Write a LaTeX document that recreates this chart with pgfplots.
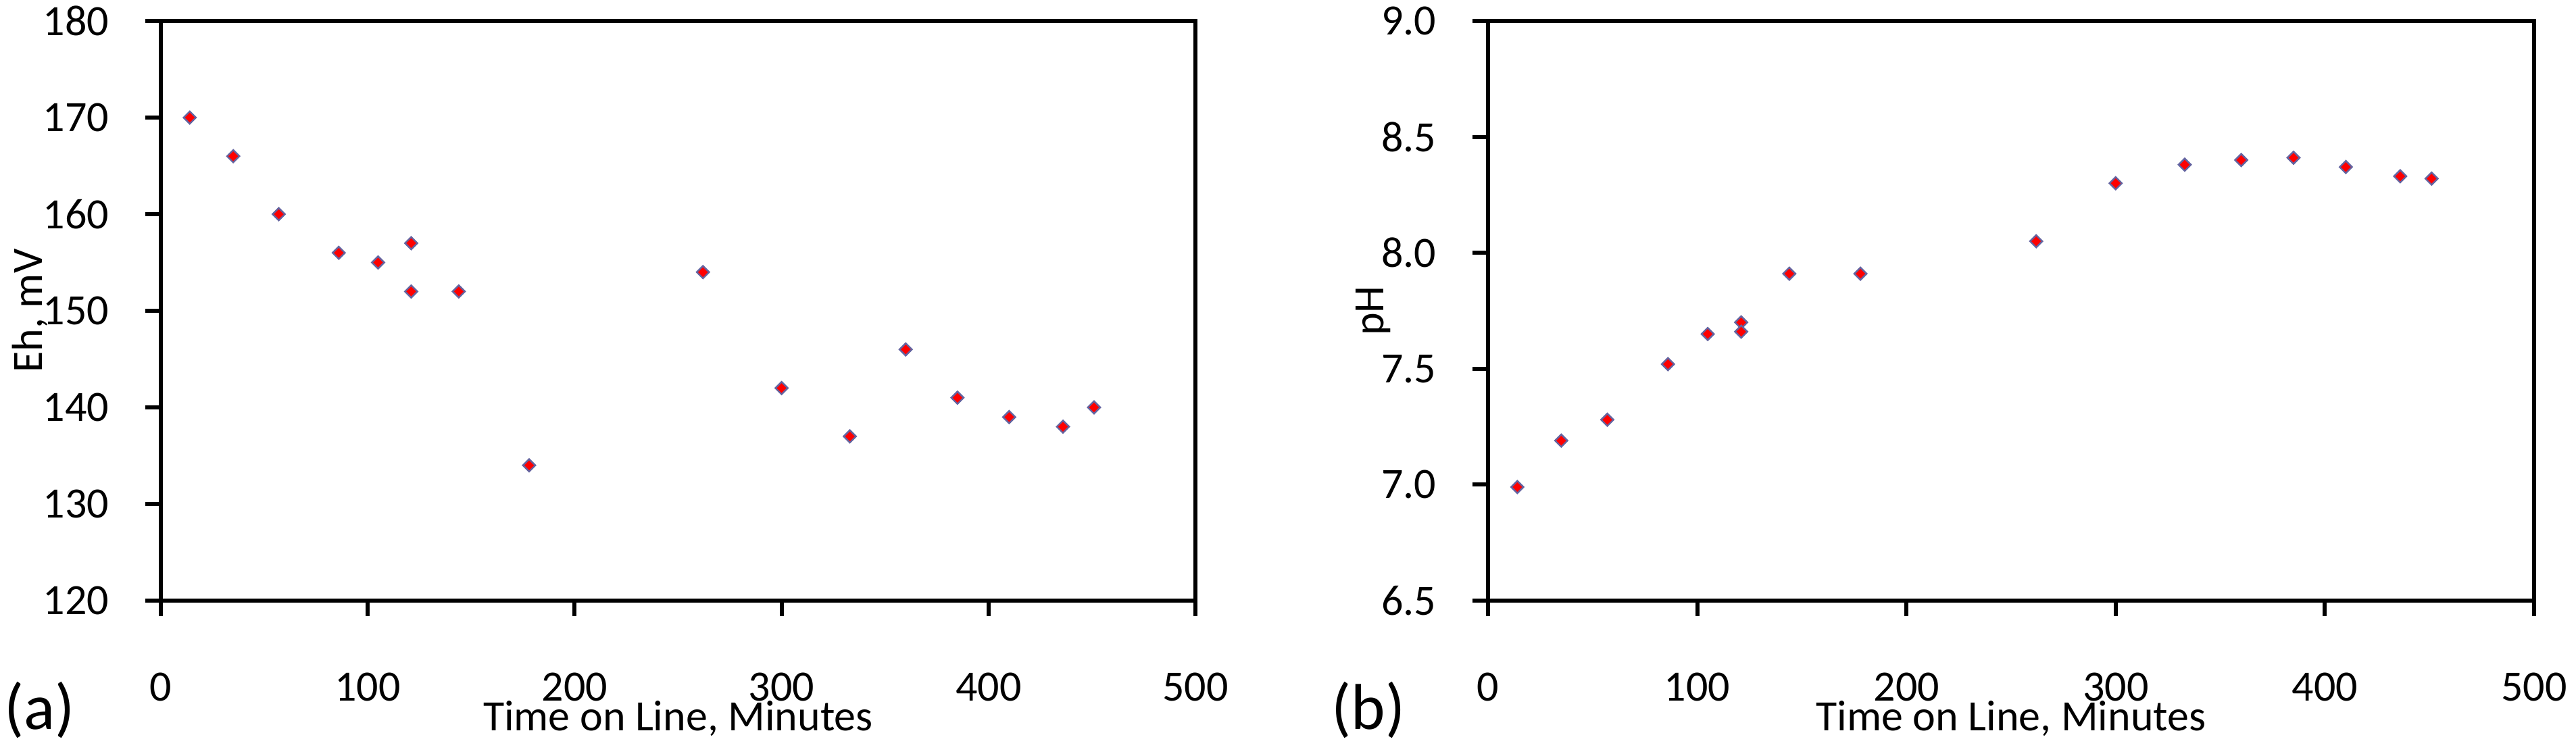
\documentclass[border=0pt]{standalone}
\usepackage{pgfplots}
\pgfplotsset{compat=1.18}
\usepackage{fontspec}
\setmainfont{Carlito}
\definecolor{mkborder}{RGB}{100,100,160}
\begin{document}
\fontsize{16pt}{19pt}\selectfont
\begin{tikzpicture}
\path[use as bounding box] (0,0) rectangle (953pt,279.5pt);
\pgfplotsset{
  myax/.style={
    scale only axis,
    height=214.5pt,
    xmin=0,xmax=500,
    xtick={0,100,...,500},
    axis line style={line width=1.5pt},
    tick style={line width=1.5pt, black},
    major tick length=5.75pt,
    tick align=outside,
    xtick pos=left, ytick pos=left,
    /pgf/number format/assume math mode=true,
    tick label style={font=\fontsize{16pt}{19pt}\selectfont},
    label style={font=\fontsize{16pt}{19pt}\selectfont},
    xticklabel style={anchor=north, inner sep=0pt},
    yticklabel style={anchor=east, inner sep=0pt},
    xticklabel shift=20.75pt,
    yticklabel shift=13.25pt,
    xlabel={Time on Line, Minutes},
    xlabel style={at={(axis description cs:0.5,-0.2249)}, anchor=base},
    only marks,
    mark=square*,
    mark size=1.62pt,
    mark options={rotate=45, fill=red, draw=mkborder, line width=0.6pt},
  }
}
\begin{axis}[myax,
  at={(59.5pt,57.25pt)}, anchor=south west,
  width=382.75pt,
  ymin=120, ymax=180, ytick={120,130,...,180},
  ylabel={Eh, mV},
  ylabel style={at={(axis description cs:-0.1143,0.5)}, anchor=base},
]
\addplot[only marks, mark=square*, mark options={rotate=45, fill=red, draw=mkborder, line width=0.6pt}] coordinates {
(14,170) (35,166) (57,160) (86,156) (105,155) (121,157) (121,152) (144,152)
(178,134) (262,154) (300,142) (333,137) (360,146) (385,141) (410,139) (436,138) (451,140)
};
\end{axis}
\begin{axis}[myax,
  at={(550.5pt,57.25pt)}, anchor=south west,
  width=387pt,
  ymin=6.5, ymax=9.0, ytick={6.5,7.0,...,9.0},
  yticklabel style={/pgf/number format/.cd, fixed, fixed zerofill, precision=1},
  ylabel={pH},
  ylabel style={at={(axis description cs:-0.1001,0.5)}, anchor=base},
]
\addplot[only marks, mark=square*, mark options={rotate=45, fill=red, draw=mkborder, line width=0.6pt}] coordinates {
(14,6.99) (35,7.19) (57,7.28) (86,7.52) (105,7.65) (121,7.70) (121,7.66) (144,7.91)
(178,7.91) (262,8.05) (300,8.30) (333,8.38) (360,8.40) (385,8.41) (410,8.37) (436,8.33) (451,8.32)
};
\end{axis}
\node[anchor=base west, inner sep=0pt, font=\fontsize{24pt}{28pt}\selectfont] at (1.5pt,9.75pt) {(a)};
\node[anchor=base west, inner sep=0pt, font=\fontsize{24pt}{28pt}\selectfont] at (492.5pt,9.75pt) {(b)};
\end{tikzpicture}
\end{document}
